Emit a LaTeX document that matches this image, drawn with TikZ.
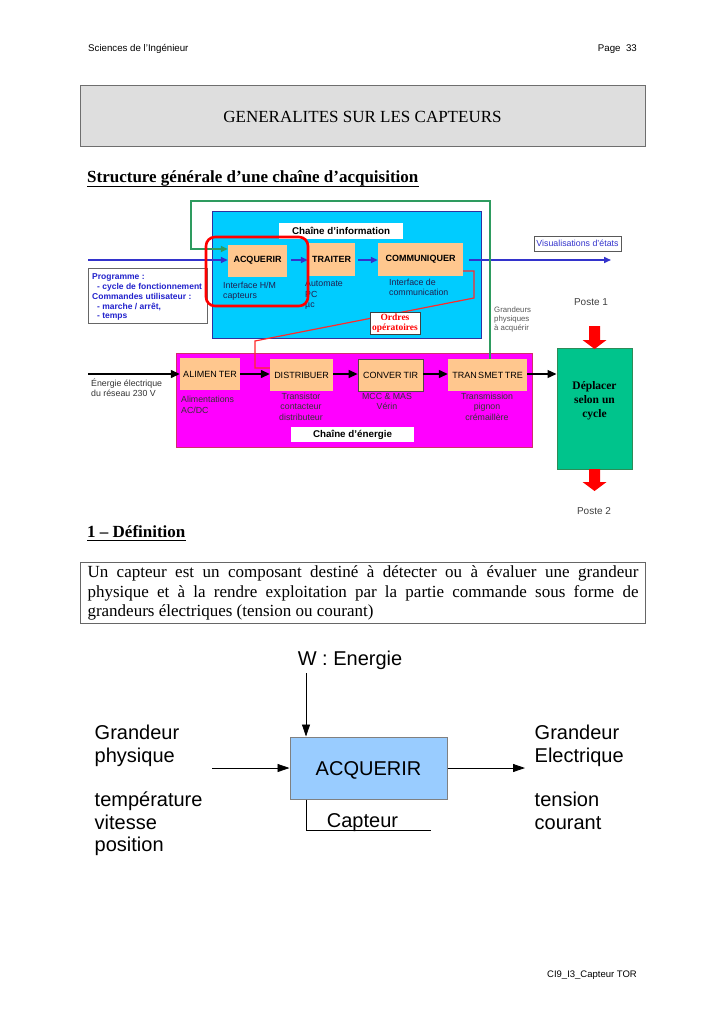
\documentclass[tikz,border=0pt]{standalone}
\usepackage{fontspec}
\setmainfont{Liberation Serif}
\setsansfont{Liberation Sans}
\usetikzlibrary{arrows.meta}
\newcommand\fsz[2]{\fontsize{#1}{#2}\selectfont}
\definecolor{cyanbox}{HTML}{00CCFF}
\definecolor{bluebd}{HTML}{3030A0}
\definecolor{orangebox}{HTML}{FFC78E}
\definecolor{bluearr}{HTML}{3333CC}
\definecolor{bluetext}{HTML}{2222CC}
\definecolor{navytext}{HTML}{202050}
\definecolor{magbox}{HTML}{FF00FF}
\definecolor{magbd}{HTML}{D0306A}
\definecolor{greenbox}{HTML}{00C48C}
\definecolor{greenbd}{HTML}{2E8B57}
\definecolor{gline}{HTML}{2E9B5F}
\definecolor{redline}{HTML}{FF2A2A}
\definecolor{titlefill}{HTML}{DEDEDE}
\definecolor{titlebd}{HTML}{6E6E6E}
\definecolor{lightblue}{HTML}{99CCFF}
\definecolor{dgray}{HTML}{333333}
\begin{document}
\begin{tikzpicture}[x=1pt,y=-1pt,
  txt/.style={inner sep=0, anchor=base west},
  ctxt/.style={inner sep=0, anchor=base},
  obox/.style={fill=orangebox, inner sep=0, minimum height=32, font={\sffamily\bfseries\fsz{9}{9}}},
  lbox/.style={fill=orangebox, inner sep=0, minimum height=32, font={\sffamily\fsz{9}{9}}},
  barrow/.style={draw=bluearr, line width=1.5, -{Triangle[length=7pt,width=6pt]}},
  karrow/.style={draw=black, line width=1.3, -{Triangle[length=9pt,width=8pt]}},
  garrow/.style={draw=gline, line width=2, -{Triangle[length=7pt,width=6pt]}},
  rline/.style={draw=redline, line width=1.2},
  sarrow/.style={draw=black, line width=0.8, -{Triangle[length=12pt,width=8pt]}},
  small/.style={font={\sffamily\fsz{8.8}{8.8}}},
  bigsans/.style={font={\sffamily\fsz{20}{20}}},
]
\useasboundingbox (0,0) rectangle (724,1024);
\fill[white] (0,0) rectangle (724,1024);

% header
\node[txt, font={\sffamily\fsz{9.7}{9.7}}] (hdrL) at (88,52) {Sciences de l'Ingénieur};
\node[inner sep=0, anchor=base east, font={\sffamily\fsz{9.7}{9.7}}] (hdrR) at (637,52) {Page\ \ 33};

% title
\node[fill=titlefill, draw=titlebd, line width=1, minimum width=565, minimum height=61, inner sep=0, font={\rmfamily\fsz{17}{17}}] (title) at (362.5,116.5) {GENERALITES SUR LES CAPTEURS};

\node[txt, font={\rmfamily\bfseries\fsz{17}{17}}] (sub) at (87,183) {Structure générale d’une chaîne d’acquisition};
\draw[line width=0.9] ([yshift=-3]sub.base west) -- ([yshift=-3]sub.base east);

% information chain
\node[fill=cyanbox, draw=bluebd, line width=1, minimum width=269, minimum height=126, inner sep=0] (infobox) at (346.5,275) {};
\node[fill=white, minimum width=124, minimum height=16, inner sep=0, font={\sffamily\bfseries\fsz{9.8}{9.8}}] (infolbl) at (341,231) {Chaîne d'information};

\node[obox, minimum width=59] (acq) at (257.5,260.5) {ACQUERIR};
\node[obox, minimum width=47, minimum height=33] (trait) at (331.5,259.5) {TRAITER};
\node[obox, minimum width=85, minimum height=33] (comm) at (420.5,259.5) {COMMUNIQUER};

\node[txt, small, text=navytext] (t1) at (223,288.5) {Interface H/M};
\node[txt, small, text=navytext] (t2) at (223,298.5) {capteurs};
\node[txt, small, text=navytext] (t3) at (305,286.5) {Automate};
\node[txt, small, text=navytext] (t4) at (305,297) {PC};
\node[txt, small, text=navytext] (t5) at (305,307) {µc};
\node[txt, small, text=navytext] (t6) at (389,285.5) {Interface de};
\node[txt, small, text=navytext] (t7) at (389,295.5) {communication};

\coordinate (bin) at (88,260);
\coordinate (bout) at (611,260);
\draw[barrow] (bin) -- (bin -| acq.west);
\draw[barrow] ([xshift=4]acq.east |- bin) -- (trait.west |- bin);
\draw[barrow] ([xshift=3]trait.east |- bin) -- (comm.west |- bin);
\draw[barrow] ([xshift=6]comm.east |- bout) -- (bout);

\node[fill=white, draw=gray!70!black, line width=0.8, minimum width=87, minimum height=15, inner sep=0, font={\sffamily\fsz{8.8}{8.8}}, text=bluearr] (vis) at (577.5,243.5) {Visualisations d'états};

% programme box
\node[fill=white, draw=gray!80!black, line width=0.9, minimum width=119, minimum height=55, inner sep=0] (prog) at (147.5,295.5) {};
\node[txt, text=bluetext, font={\sffamily\bfseries\fsz{8.5}{8.5}}] (p1) at (92,279.5) {Programme :};
\node[txt, text=bluetext, font={\sffamily\bfseries\fsz{8.5}{8.5}}] (p2) at (97,289.5) {- cycle de fonctionnement};
\node[txt, text=bluetext, font={\sffamily\bfseries\fsz{8.5}{8.5}}] (p3) at (92,299.5) {Commandes utilisateur :};
\node[txt, text=bluetext, font={\sffamily\bfseries\fsz{8.5}{8.5}}] (p4) at (97,309.5) {- marche / arrêt,};
\node[txt, text=bluetext, font={\sffamily\bfseries\fsz{8.5}{8.5}}] (p5) at (97,318.5) {- temps};

% energy chain
\node[fill=magbox, draw=magbd, line width=1, minimum width=356, minimum height=94, inner sep=0] (enbox) at (354,400) {};
\node[fill=white, minimum width=123, minimum height=15, inner sep=0, font={\sffamily\bfseries\fsz{9.8}{9.8}}] (enlbl) at (352.5,434.5) {Chaîne d'énergie};

\node[lbox, minimum width=60] (alim) at (210,374) {ALIMEN\hspace{2pt}TER};
\node[lbox, minimum width=63] (dist) at (301.5,375) {DISTRIBUER};
\node[lbox, minimum width=65, draw=black!75!magenta, line width=0.8] (conv) at (390.5,375) {CONVER\hspace{2pt}TIR};
\node[lbox, minimum width=79] (trans) at (487.5,375) {TRAN\hspace{1.5pt}SMET\hspace{1.5pt}TRE};

\node[txt, small, text=dgray] (e1) at (91,386) {Énergie électrique};
\node[txt, small, text=dgray] (e2) at (91,396) {du réseau 230 V};
\node[txt, small, text=dgray] (a1) at (181,402.5) {Alimentations};
\node[txt, small, text=dgray] (a2) at (181,413.5) {AC/DC};
\node[ctxt, small, text=dgray] (d1) at (301,399) {Transistor};
\node[ctxt, small, text=dgray] (d2) at (301,409) {contacteur};
\node[ctxt, small, text=dgray] (d3) at (301,420) {distributeur};
\node[ctxt, small, text=dgray] (c1) at (387,399.5) {MCC \& MAS};
\node[ctxt, small, text=dgray] (c2) at (387,409.5) {Vérin};
\node[ctxt, small, text=dgray] (m1) at (487,399.5) {Transmission};
\node[ctxt, small, text=dgray] (m2) at (487,409.5) {pignon};
\node[ctxt, small, text=dgray] (m3) at (487,420) {crémaillère};

\node[txt, text=black!65, font={\sffamily\fsz{7.8}{7.8}}] (g1) at (494,312) {Grandeurs};
\node[txt, text=black!65, font={\sffamily\fsz{7.8}{7.8}}] (g2) at (494,321) {physiques};
\node[txt, text=black!65, font={\sffamily\fsz{7.8}{7.8}}] (g3) at (494,330.5) {à acquérir};

% moving part
\node[fill=greenbox, draw=greenbd, line width=1, minimum width=75, minimum height=121, inner sep=0] (depl) at (594.5,408.5) {};
\node[inner sep=0, align=center, font={\rmfamily\bfseries\fsz{11.5}{14}}] (depltxt) at (594.5,401) {Déplacer\\selon un\\cycle};
\node[inner sep=0, text=black!75, font={\sffamily\fsz{10}{10}}] (poste1) at (591,302) {Poste 1};
\node[inner sep=0, text=black!75, font={\sffamily\fsz{10}{10}}] (poste2) at (594,511) {Poste 2};
\fill[red] (589,326) -- (600,326) -- (600,340) -- (606.5,340) -- (594.5,349) -- (582.5,340) -- (589,340) -- cycle;
\fill[red] (589,469) -- (600,469) -- (600,482) -- (606.5,482) -- (594.5,491) -- (582.5,482) -- (589,482) -- cycle;

% black arrows
\coordinate (ein) at (88,374);
\draw[karrow] (ein) -- (ein -| alim.west);
\draw[karrow] (alim.east |- ein) -- (dist.west |- ein);
\draw[karrow] (dist.east |- ein) -- (conv.west |- ein);
\draw[karrow] (conv.east |- ein) -- (trans.west |- ein);
\draw[karrow] (trans.east |- ein) -- (depl.west |- ein);

% green feedback
\coordinate (gR) at (490,201);
\coordinate (gL) at (191,201);
\coordinate (gA) at (191,249);
\draw[garrow] (trans.north -| gR) -- (gR) -- (gL) -- (gA) -- (gA -| acq.west);

% red orders line
\coordinate (r1) at (474,271);
\coordinate (r2) at (474,298);
\coordinate (r3) at (255,341);
\coordinate (r4) at (255,368);
\draw[rline] (comm.east |- r1) -- (r1) -- (r2) -- (r3) -- (r4) -- (r4 -| dist.west);
\node[fill=white, draw=black!75, line width=0.8, minimum width=50, minimum height=22, inner sep=0, align=center, text=red, font={\rmfamily\bfseries\fsz{9.5}{10}}] (ord) at (395,323) {Ordres\\opératoires};

% red selection
\node[draw=red, line width=2.6, rounded corners=9, minimum width=102, minimum height=69, inner sep=0] (sel) at (257,271.5) {};

% definition
\node[txt, font={\rmfamily\bfseries\fsz{17}{17}}] (defh) at (87,537) {1 – Définition};
\draw[line width=0.9] ([yshift=-3]defh.base west) -- ([yshift=-3]defh.base east);
\node[draw=black!60, line width=1, anchor=north west, text width=551, inner xsep=7, inner ysep=0, minimum height=61, align=justify, font={\rmfamily\fsz{17}{19.5}}] (def) at (80,562) {\tolerance=9999 Un capteur est un composant destiné à détecter ou à évaluer une grandeur\linebreak physique et à la rendre exploitation par la partie commande sous forme de\linebreak grandeurs électriques (tension ou courant)};

% bottom diagram
\node[fill=lightblue, draw=gray, line width=1, minimum width=157, minimum height=62, inner sep=0] (acq2) at (368.5,768) {};
\node[ctxt, bigsans] (acq2t) at (368.5,775) {ACQUERIR};
\node[ctxt, bigsans] (wl) at (350,665) {W : Energie};
\coordinate (wtop) at (306,673);
\draw[sarrow] (wtop) -- (wtop |- acq2.north);
\coordinate (gin) at (212,768);
\coordinate (gout) at (525,768);
\draw[sarrow] (gin) -- (gin -| acq2.west);
\draw[sarrow] (acq2.east |- gout) -- (gout);
\coordinate (cb) at (306,830);
\coordinate (ce) at (431,830);
\draw[line width=0.8] (acq2.south -| cb) -- (cb) -- (ce);
\node[ctxt, bigsans] (capt) at (362.5,827.5) {Capteur};
\node[txt, bigsans] (l1) at (94.5,739.5) {Grandeur};
\node[txt, bigsans] (l2) at (94.5,762) {physique};
\node[txt, bigsans] (l3) at (94.5,806.5) {température};
\node[txt, bigsans] (l4) at (94.5,829) {vitesse};
\node[txt, bigsans] (l5) at (94.5,851.5) {position};
\node[txt, bigsans] (r1t) at (534.5,739.5) {Grandeur};
\node[txt, bigsans] (r2t) at (534.5,762) {Electrique};
\node[txt, bigsans] (r3t) at (534.5,806.5) {tension};
\node[txt, bigsans] (r4t) at (534.5,829) {courant};

% footer
\node[inner sep=0, anchor=base east, font={\sffamily\fsz{9.5}{9.5}}] (ftr) at (637,977) {CI9\_I3\_Capteur TOR};
\end{tikzpicture}
\end{document}
